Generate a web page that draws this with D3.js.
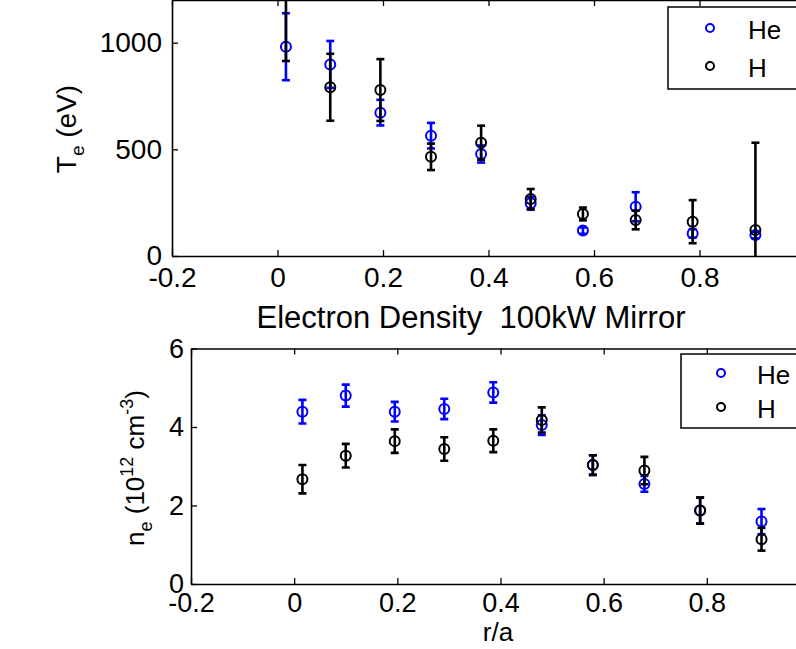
<!DOCTYPE html>
<html>
<head>
<meta charset="utf-8">
<script src="https://cdn.jsdelivr.net/npm/d3@7"></script>
<style>
  body { margin: 0; background: #fff; overflow: hidden; }
  svg { display: block; font-family: "Liberation Sans", Arial, sans-serif; }
</style>
</head>
<body>
<div id="chart"></div>
<script>
// radial positions (r/a) shared by both panels
var radius = [0.016, 0.1, 0.195, 0.291, 0.386, 0.48, 0.579, 0.679, 0.787, 0.906];

// electron temperature (eV)
var teHe = [981, 898, 672, 564, 478, 247, 119, 231, 106, 98];
var teHeErr = [157, 110, 60, 60, 40, 30, 15, 68, 20, 15];
var teH = [1280, 791, 778, 465, 531, 267, 197, 169, 161, 122];
var teHErr = [366, 157, 145, 62, 80, 47, 30, 44, 101, 409];

// electron density (1e12 cm^-3)
var neHe = [4.39, 4.80, 4.39, 4.46, 4.88, 4.05, 3.03, 2.55, 1.87, 1.59];
var neHeErr = [0.30, 0.28, 0.25, 0.26, 0.26, 0.25, 0.25, 0.20, 0.33, 0.32];
var neH = [2.67, 3.27, 3.64, 3.44, 3.65, 4.18, 3.03, 2.89, 1.87, 1.14];
var neHErr = [0.36, 0.30, 0.30, 0.30, 0.29, 0.32, 0.25, 0.35, 0.33, 0.29];

var xTicks = [-0.2, 0, 0.2, 0.4, 0.6, 0.8, 1.0];
var teTicks = [0, 500, 1000];
var neTicks = [0, 2, 4, 6];

var W = 796, H = 649;

var svg = d3.select("#chart")
    .append("svg")
    .attr("width", W)
    .attr("height", H);

// matlab style labels: plain hyphen, no trailing zeros, last tick falls off the page
function fmtX(d) {
    if (d >= 1) return "";
    return d === 0 ? "0" : d.toFixed(1);
}
function fmtY(d) { return String(d); }

function panel(opt) {
    var x = d3.scaleLinear().domain([-0.2, 1.0]).range([opt.left, opt.right]);
    var y = d3.scaleLinear().domain(opt.ydomain).range([opt.bottom, opt.top]);

    var g = svg.append("g");

    g.append("clipPath").attr("id", opt.id)
        .append("rect")
        .attr("x", opt.left).attr("y", opt.top)
        .attr("width", opt.right - opt.left).attr("height", opt.bottom - opt.top);

    // axes
    var ax = g.append("g").attr("transform", "translate(0," + opt.bottom + ")")
        .call(d3.axisBottom(x).tickValues(xTicks).tickFormat(fmtX).tickSize(-6).tickSizeOuter(0).tickPadding(opt.xpad));
    var ay = g.append("g").attr("transform", "translate(" + opt.left + ",0)")
        .call(d3.axisLeft(y).tickValues(opt.yticks).tickFormat(fmtY).tickSize(-6).tickSizeOuter(0).tickPadding(opt.ypad));
    var at = g.append("g").attr("transform", "translate(0," + opt.top + ")")
        .call(d3.axisTop(x).tickValues(xTicks).tickFormat("").tickSize(-6).tickSizeOuter(0));
    var ar = g.append("g").attr("transform", "translate(" + opt.right + ",0)")
        .call(d3.axisRight(y).tickValues(opt.yticks).tickFormat("").tickSize(-6).tickSizeOuter(0));

    [ax, ay, at, ar].forEach(function (a) {
        a.select(".domain").attr("stroke", "#000").attr("stroke-width", 1.6);
        a.selectAll(".tick line").attr("stroke", "#000").attr("stroke-width", 1.3);
        a.selectAll("text").attr("fill", "#000").attr("font-size", opt.tickFont)
            .attr("font-family", "Liberation Sans, Arial, sans-serif");
    });

    var plot = g.append("g").attr("clip-path", "url(#" + opt.id + ")");

    opt.series.forEach(function (s) {
        var data = radius.map(function (r, i) { return { r: r, v: s.values[i], e: s.errs[i] }; });
        var sg = plot.append("g").attr("stroke", s.color).attr("fill", "none");

        sg.selectAll("line.bar").data(data).enter().append("line")
            .attr("x1", function (d) { return x(d.r); })
            .attr("x2", function (d) { return x(d.r); })
            .attr("y1", function (d) { return y(d.v - d.e); })
            .attr("y2", function (d) { return y(d.v + d.e); })
            .attr("stroke-width", 2.6);

        sg.selectAll("line.capTop").data(data).enter().append("line")
            .attr("x1", function (d) { return x(d.r) - 4; })
            .attr("x2", function (d) { return x(d.r) + 4; })
            .attr("y1", function (d) { return y(d.v + d.e); })
            .attr("y2", function (d) { return y(d.v + d.e); })
            .attr("stroke-width", 2.6);

        sg.selectAll("line.capBot").data(data).enter().append("line")
            .attr("x1", function (d) { return x(d.r) - 4; })
            .attr("x2", function (d) { return x(d.r) + 4; })
            .attr("y1", function (d) { return y(d.v - d.e); })
            .attr("y2", function (d) { return y(d.v - d.e); })
            .attr("stroke-width", 2.6);

        sg.selectAll("circle").data(data).enter().append("circle")
            .attr("cx", function (d) { return x(d.r); })
            .attr("cy", function (d) { return y(d.v); })
            .attr("r", 5)
            .attr("stroke-width", 2);
    });

    // legend
    var L = opt.legend;
    var lg = g.append("g");
    lg.append("rect")
        .attr("x", L.x).attr("y", L.y)
        .attr("width", 160).attr("height", L.h)
        .attr("fill", "#fff").attr("stroke", "#000").attr("stroke-width", 1.5);
    opt.series.forEach(function (s, i) {
        var cy = L.y + L.first + i * L.step;
        lg.append("circle")
            .attr("cx", L.x + L.mx).attr("cy", cy).attr("r", 4)
            .attr("fill", "none").attr("stroke", s.color).attr("stroke-width", 2);
        lg.append("text")
            .attr("x", L.x + L.tx).attr("y", cy + 11)
            .attr("font-size", 26).text(s.name);
    });

    return g;
}

// Temperature panel (top)
panel({
    id: "clipTe",
    left: 172, right: 805, top: 0, bottom: 256,
    ydomain: [0, 1200], yticks: teTicks, xpad: 11, ypad: 10, tickFont: 28,
    series: [
        { name: "He", color: "#0000ff", values: teHe, errs: teHeErr },
        { name: "H", color: "#000", values: teH, errs: teHErr }
    ],
    legend: { x: 668, y: 7, h: 82, first: 21, step: 38, mx: 42, tx: 80 }
});

// Density panel (bottom)
panel({
    id: "clipNe",
    left: 191, right: 810, top: 348.5, bottom: 584,
    ydomain: [0, 6], yticks: neTicks, xpad: 9, ypad: 7, tickFont: 27,
    series: [
        { name: "He", color: "#0000ff", values: neHe, errs: neHeErr },
        { name: "H", color: "#000", values: neH, errs: neHErr }
    ],
    legend: { x: 681, y: 354, h: 74, first: 19, step: 34, mx: 40, tx: 76 }
});

// Titles and axis labels
svg.append("text")
    .attr("x", 471).attr("y", 328)
    .attr("text-anchor", "middle").attr("font-size", 31)
    .attr("xml:space", "preserve")
    .text("Electron Density  100kW Mirror");

svg.append("text")
    .attr("x", 498).attr("y", 641)
    .attr("text-anchor", "middle").attr("font-size", 26)
    .text("r/a");

var teLab = svg.append("text")
    .attr("transform", "translate(76,129) rotate(-90)")
    .attr("text-anchor", "middle").attr("font-size", 28);
teLab.append("tspan").text("T");
teLab.append("tspan").attr("font-size", 19).attr("dy", 8).text("e");
teLab.append("tspan").attr("dy", -8).text(" (eV)");

var neLab = svg.append("text")
    .attr("transform", "translate(144,468) rotate(-90)")
    .attr("text-anchor", "middle").attr("font-size", 26);
neLab.append("tspan").text("n");
neLab.append("tspan").attr("font-size", 18).attr("dy", 8).text("e");
neLab.append("tspan").attr("dy", -8).text(" (10");
neLab.append("tspan").attr("font-size", 18).attr("dy", -11).text("12");
neLab.append("tspan").attr("dy", 11).text(" cm");
neLab.append("tspan").attr("font-size", 18).attr("dy", -11).text("-3");
neLab.append("tspan").attr("dy", 11).text(")");
</script>
</body>
</html>
